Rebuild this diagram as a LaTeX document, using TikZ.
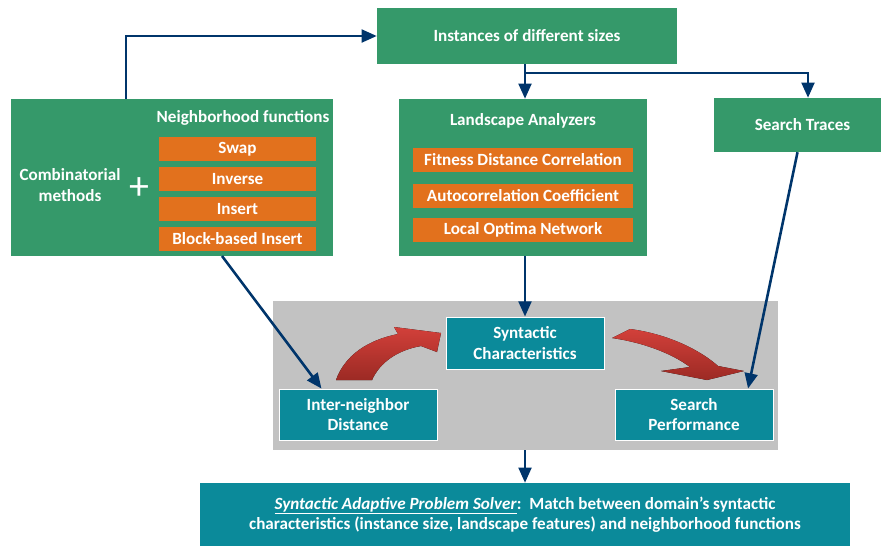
\documentclass[tikz,border=0pt]{standalone}
\usepackage{fontspec}
\setmainfont{Carlito}
\usetikzlibrary{arrows.meta,calc}
\definecolor{boxgreen}{HTML}{35996A}
\definecolor{boxorange}{HTML}{E2711D}
\definecolor{boxteal}{HTML}{0B8A9A}
\definecolor{linknavy}{HTML}{00356B}
\definecolor{panelgray}{HTML}{C2C2C2}
\definecolor{arrowred}{HTML}{D2403A}
\definecolor{arrowdark}{HTML}{9C2A24}
\tikzset{
	boxtext/.style={text=white,font=\bfseries\fontsize{14.6}{17.5}\selectfont,align=center,inner sep=0pt},
	gbox/.style={boxtext,fill=boxgreen},
	obox/.style={boxtext,fill=boxorange,minimum height=0.72cm},
	tbox/.style={boxtext,fill=boxteal,draw=white,line width=0.8pt,minimum width=4.74cm,minimum height=1.53cm},
	link/.style={draw=linknavy,line width=2.2pt,-{Triangle[length=13pt,width=11pt]}},
	fatarrow/.style={draw=none,left color=arrowred,right color=arrowdark,shading angle=0}
}
\begin{document}
\begin{tikzpicture}[x=0.03cm,y=-0.03cm]
	\useasboundingbox (0,0) rectangle (881,546);
	
	\node[gbox,minimum width=9cm,minimum height=1.68cm] (inst) at (527,36) {Instances of different sizes};
	\node[gbox,minimum width=9.66cm,minimum height=4.71cm] (nbr) at (172,177.5) {};
	\node[gbox,minimum width=5.01cm,minimum height=1.62cm] (trace) at (797.5,125) {\hspace*{0.3cm}Search Traces};
	\node[gbox,minimum width=7.44cm,minimum height=4.71cm] (land) at (523,177.5) {};
	
	\node[boxtext] (nbrtitle) at (243,118) {Neighborhood functions};
	\node[boxtext] (comb) at (70,185) {Combinatorial\\methods};
	\node[text=white,font=\fontsize{34}{34}\selectfont,inner sep=0pt] (plus) at (139,189) {+};
	\foreach \name/\txt [count=\i] in {swap/Swap,inv/Inverse,ins/Insert,block/Block-based Insert}
		\node[obox,minimum width=4.71cm] (\name) at (237.5,119+30*\i) {\txt};
	
	\node[boxtext] (landtitle) at (523,121) {Landscape Analyzers};
	\node[obox,minimum width=6.6cm] (fdc) at (523,160) {Fitness Distance Correlation};
	\node[obox,minimum width=6.6cm] (acc) at (523,196) {Autocorrelation Coefficient};
	\node[obox,minimum width=6.6cm] (lon) at (523,230) {Local Optima Network};
	
	\node[fill=panelgray,minimum width=15.15cm,minimum height=4.47cm,inner sep=0pt] (grp) at (525.5,375.5) {};
	\node[tbox,minimum height=1.56cm] (syn) at (525,343) {Syntactic\\Characteristics};
	\node[tbox] (inter) at (358,414.5) {Inter-neighbor\\Distance};
	\node[tbox] (perf) at (694,414.5) {Search\\Performance};
	
	\node[boxtext,fill=boxteal,minimum width=19.5cm,minimum height=1.89cm] (solver) at (525,514.5)
		{\underline{\textit{Syntactic Adaptive Problem Solver}}:\ \ Match between domain’s syntactic\\characteristics (instance size, landscape features) and neighborhood functions};
	
	\fill[fatarrow] (336,380) .. controls (345,355) and (368,340) .. (398,334) -- (394,327)
		-- (441,333) -- (437,352) -- (421,346) .. controls (398,350) and (380,362) .. (372,380) -- cycle;
	\fill[fatarrow] (630,329) .. controls (668,334) and (700,350) .. (718,366) -- (744,371)
		-- (707,380) -- (661,371) -- (690,367) .. controls (670,352) and (640,342) .. (612,338) -- cycle;
	
	\coordinate (upx) at (126,0);
	\coordinate (split) at (525,73);
	\coordinate (trx) at (808,0);
	\coordinate (nbrout) at (222,256);
	\draw[link] (nbr.north -| upx) |- (inst.west);
	\draw[link] (inst.south -| split) -- (land.north -| split);
	\draw[link] (split) -| (trace.north -| trx);
	\draw[link] (land.south -| split) -- (syn.north -| split);
	\draw[link] (nbrout) -- ($(inter.north west)!0.27!(inter.north east)$);
	\draw[link] (trace.south) -- ($(perf.north west)!0.84!(perf.north east)$);
	\draw[link] (grp.south -| split) -- (solver.north -| split);
\end{tikzpicture}
\end{document}
